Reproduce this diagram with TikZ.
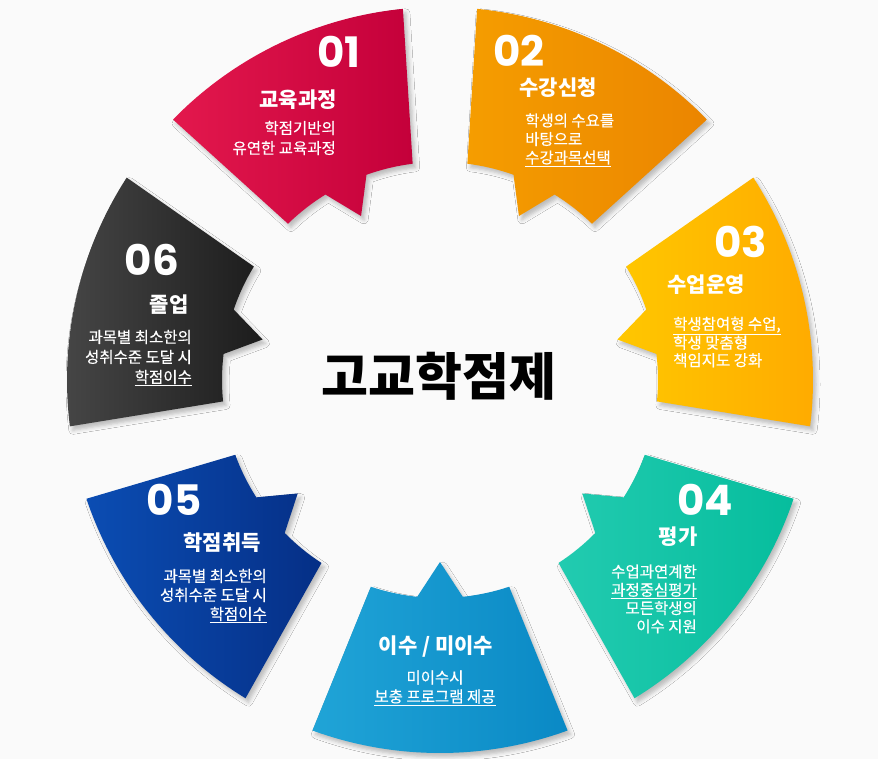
\documentclass[tikz,border=0pt]{standalone}
\usepackage{fontspec}
\setmainfont{Noto Sans CJK KR}
\newfontfamily\numfont{Poppins}
\newfontfamily\medfont{Noto Sans CJK KR}[FakeBold=0.4]
\usetikzlibrary{calc,shadows.blur}

\definecolor{redA}{HTML}{E3184D}
\definecolor{redB}{HTML}{C4003A}
\definecolor{orangeA}{HTML}{F59D00}
\definecolor{orangeB}{HTML}{EB8500}
\definecolor{yellowA}{HTML}{FFC700}
\definecolor{yellowB}{HTML}{FFAA00}
\definecolor{tealA}{HTML}{22CBB0}
\definecolor{tealB}{HTML}{06BD9D}
\definecolor{skyA}{HTML}{20A4D7}
\definecolor{skyB}{HTML}{0A89C5}
\definecolor{navyA}{HTML}{0B4DB3}
\definecolor{navyB}{HTML}{052F86}
\definecolor{coalA}{HTML}{474747}
\definecolor{coalB}{HTML}{1C1C1C}

\newcommand\ulkr[1]{\underline{#1}}

\begin{document}
\begin{tikzpicture}[
  x=1pt, y=1pt,
  piece/.style={blur shadow={shadow xshift=3pt, shadow yshift=-4pt,
                shadow blur radius=4pt, shadow opacity=25}},
  num/.style={font=\numfont\bfseries\fontsize{42}{42}\selectfont,
              text=white, inner sep=0pt},
  head/.style={font=\bfseries\fontsize{21}{21}\selectfont, text=white,
               inner sep=0pt},
  body/.style={font=\medfont\fontsize{15.5}{#1}\selectfont, text=white,
               inner sep=0pt},
  body/.default=19,
]
\useasboundingbox (0,0) rectangle (878,759);
\fill[white!98!black] (0,0) rectangle (878,759);
\coordinate (C) at (440,379);

% seven arrow pieces round the ring, tooth pointing to the centre
\foreach \m/\lc/\rc in {115.71/redA/redB, 64.29/orangeA/orangeB,
    12.86/yellowA/yellowB, -38.57/tealA/tealB, 270/skyA/skyB,
    218.57/navyA/navyB, 167.14/coalA/coalB} {
  \path[piece, left color=\lc, right color=\rc]
    ($(C)+({\m+20}:373pt)$) arc[start angle=\m+20, end angle=\m-20, radius=373pt]
    -- ($(C)+({\m-18.5}:218pt)$) arc[start angle=\m-18.5, end angle=\m-6, radius=218pt]
    -- ($(C)+(\m:182pt)$)
    -- ($(C)+({\m+6}:218pt)$) arc[start angle=\m+6, end angle=\m+18.5, radius=218pt]
    -- cycle;
}

\node[font=\bfseries\fontsize{51}{51}\selectfont, inner sep=0pt] (title)
  at (439,383) {고교학점제};

% 01
\node[num] (n01) at (339,707) {01};
\node[head] (h01) at (298,659) {교육과정};
\node[body=20, align=right, anchor=east] (b01) at (336,621)
  {학점기반의\\유연한 교육과정};
% 02
\node[num] (n02) at (519,708) {02};
\node[head] (h02) at (558,671) {수강신청};
\node[body=18.5, align=left, anchor=west] (b02) at (525,619)
  {학생의 수요를\\바탕으로\\\ulkr{수강과목선택}};
% 03
\node[num] (n03) at (741,517) {03};
\node[head] (h03) at (706,474) {수업운영};
\node[body=17.5, align=left, anchor=west] (b03) at (673,417)
  {\ulkr{학생참여형 수업,}\\학생 맞춤형\\책임지도 강화};
% 04
\node[num] (n04) at (705,259) {04};
\node[head] (h04) at (678,222) {평가};
\node[body=18.3, align=right, anchor=east] (b04) at (697,160)
  {수업과연계한\\\ulkr{과정중심평가}\\모든학생의\\이수 지원};
% pass / fail
\node[head] (h07) at (436,112) {이수 / 미이수};
\node[body, align=center] (b07) at (435,71)
  {미이수시\\\ulkr{보충 프로그램 제공}};
% 05
\node[num] (n05) at (174,259) {05};
\node[head] (h05) at (222,216) {학점취득};
\node[body, align=right, anchor=east] (b05) at (267,163)
  {과목별 최소한의\\성취수준 도달 시\\\ulkr{학점이수}};
% 06
\node[num] (n06) at (152,499) {06};
\node[head] (h06) at (169,454) {졸업};
\node[body=20, align=right, anchor=east] (b06) at (192,401)
  {과목별 최소한의\\성취수준 도달 시\\\ulkr{학점이수}};
\end{tikzpicture}
\end{document}
